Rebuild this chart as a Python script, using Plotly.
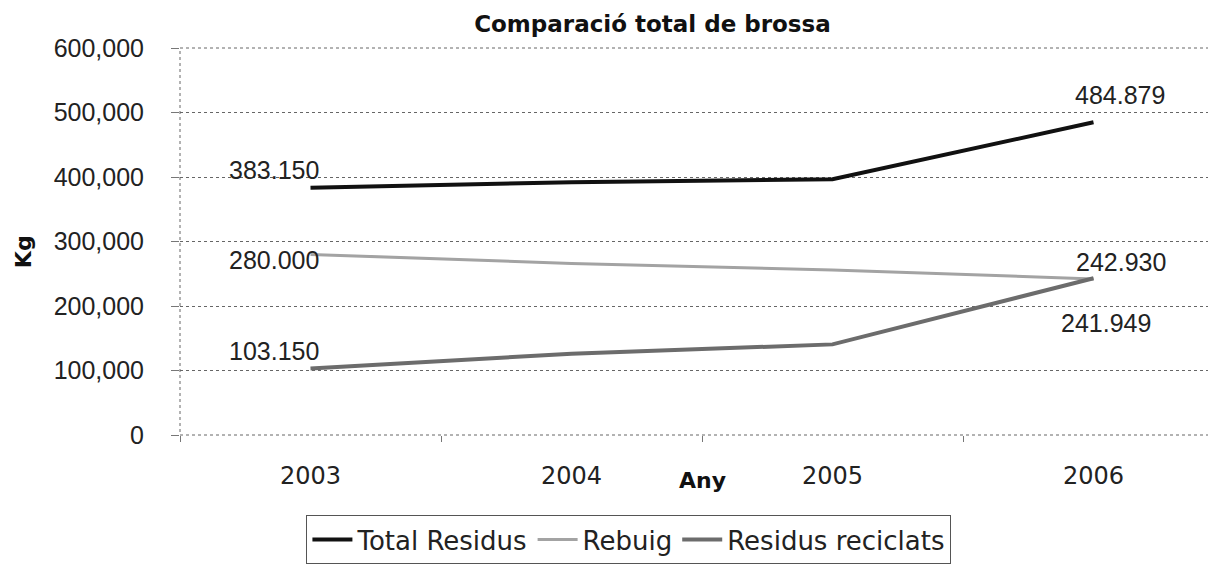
import plotly.graph_objects as go

years = ["2003", "2004", "2005", "2006"]
total_residus = [383150, 392000, 396500, 484879]
rebuig = [280000, 266000, 256000, 241949]
residus_reciclats = [103150, 126000, 140500, 242930]

y_ticks = [0, 100000, 200000, 300000, 400000, 500000, 600000]

SANS = "Liberation Sans, Arial, sans-serif"
HAND = "DejaVu Sans, sans-serif"


def fmt(v):
    return f"{v:,}".replace(",", ".")


fig = go.Figure()
fig.add_trace(go.Scatter(
    x=years, y=total_residus, name="Total Residus", mode="lines",
    line=dict(color="#111111", width=4),
))
fig.add_trace(go.Scatter(
    x=years, y=rebuig, name="Rebuig", mode="lines",
    line=dict(color="#a3a3a3", width=3),
))
fig.add_trace(go.Scatter(
    x=years, y=residus_reciclats, name="Residus reciclats", mode="lines",
    line=dict(color="#6c6c6c", width=4),
))

fig.update_layout(
    width=1216, height=573,
    margin=dict(l=172, r=0, t=40, b=146),
    paper_bgcolor="white", plot_bgcolor="white",
    title=dict(text="<b>Comparació total de brossa</b>", x=0.53, xanchor="center",
               y=0.972, yanchor="middle",
               font=dict(family=HAND, size=23, color="#111111")),
    xaxis=dict(type="category", range=[-0.5, 3.5], showgrid=False,
               ticks="outside", ticklen=6, tickcolor="#777777",
               tickson="boundaries", ticklabelstandoff=24,
               tickfont=dict(family=HAND, size=24, color="#222222"),
               showline=False, zeroline=False),
    yaxis=dict(range=[0, 600000], tickvals=y_ticks, tickformat=",d",
               showgrid=True, gridcolor="#666666", griddash="dot", gridwidth=1,
               ticks="outside", ticklen=8, tickcolor="#777777",
               ticklabelstandoff=22,
               tickfont=dict(family=SANS, size=25, color="#222222"),
               zeroline=False, showline=False),
    legend=dict(orientation="h", x=0.43, xanchor="center", y=-0.27, yanchor="middle",
                bordercolor="#555555", borderwidth=1, bgcolor="white",
                font=dict(family=HAND, size=26, color="#222222"),
                itemwidth=40, tracegroupgap=0),
    showlegend=True,
)

# data labels at first and last points (pixel offsets only)
label_specs = [
    (total_residus, 0, -37, 18), (total_residus, 3, 26, 27),
    (rebuig, 0, -37, -6), (rebuig, 3, 12, -44),
    (residus_reciclats, 0, -37, 17), (residus_reciclats, 3, 27, 16),
]
for series, i, dx, dy in label_specs:
    fig.add_annotation(xref="x", yref="y", x=i, y=series[i], text=fmt(series[i]),
                       showarrow=False, xshift=dx, yshift=dy,
                       xanchor="center", yanchor="middle",
                       font=dict(family=SANS, size=25, color="#222222"))

fig.add_shape(type="rect", xref="paper", yref="paper", x0=0, y0=0, x1=1, y1=1,
              line=dict(color="#666666", width=1, dash="dot"), layer="below")

fig.add_annotation(text="<b>Kg</b>", xref="paper", yref="paper", x=-0.15, y=0.4735,
                   xanchor="center", yanchor="middle",
                   textangle=-90, showarrow=False,
                   font=dict(family=HAND, size=22, color="#111111"))
fig.add_annotation(text="<b>Any</b>", xref="paper", yref="paper", x=0.5, y=-0.118,
                   xanchor="center", yanchor="middle",
                   showarrow=False, font=dict(family=HAND, size=22, color="#111111"))

fig.write_html("out.html")
